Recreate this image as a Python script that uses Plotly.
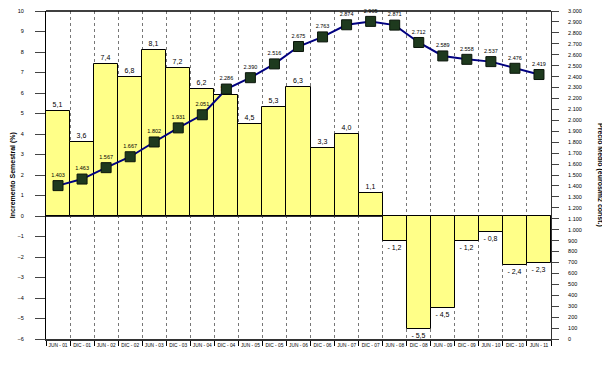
import plotly.graph_objects as go

categories = ["JUN - 01", "DIC - 01", "JUN - 02", "DIC - 02", "JUN - 03", "DIC - 03", "JUN - 04",
              "DIC - 04", "JUN - 05", "DIC - 05", "JUN - 06", "DIC - 06", "JUN - 07", "DIC - 07",
              "JUN - 08", "DIC - 08", "JUN - 09", "DIC - 09", "JUN - 10", "DIC - 10", "JUN - 11"]
incremento = [5.1, 3.6, 7.4, 6.8, 8.1, 7.2, 6.2, 5.9, 4.5, 5.3, 6.3, 3.3, 4.0, 1.1,
              -1.2, -5.5, -4.5, -1.2, -0.8, -2.4, -2.3]
precio = [1403, 1463, 1567, 1667, 1802, 1931, 2051, 2286, 2390, 2516, 2675, 2763, 2874, 2905,
          2871, 2712, 2589, 2558, 2537, 2476, 2419]

def fmt_pct(v):
    s = f"{abs(v):.1f}".replace(".", ",")
    return ("- " + s) if v < 0 else s

def fmt_thousands(v):
    return f"{v:,}".replace(",", ".")

FONT = "Liberation Sans, Arial, sans-serif"

fig = go.Figure()
fig.add_trace(go.Bar(
    x=categories, y=incremento,
    marker=dict(color="#FFFF88", line=dict(color="#000000", width=1)),
    text=[fmt_pct(v) for v in incremento], textposition="outside",
    textfont=dict(size=7, color="#000000", family=FONT),
    cliponaxis=False, showlegend=False,
))
fig.add_trace(go.Scatter(
    x=categories, y=precio, yaxis="y2", mode="lines+markers+text",
    line=dict(color="#000080", width=2),
    marker=dict(symbol="square", size=10, color="#1E3A1E", line=dict(color="#0A150A", width=1)),
    text=[fmt_thousands(v) for v in precio], textposition="top center",
    textfont=dict(size=5.5, color="#000000", family=FONT),
    cliponaxis=False, showlegend=False,
))

fig.update_layout(
    width=602, height=357,
    margin=dict(l=38, r=59, t=3, b=26, autoexpand=False),
    plot_bgcolor="#FFFFFF", paper_bgcolor="#FFFFFF",
    bargap=0, separators=",.",
    font=dict(family=FONT, size=6, color="#000000"),
    xaxis=dict(
        type="category", range=[-0.5, len(categories) - 0.5],
        tickson="boundaries", ticks="outside", ticklen=5,
        tickcolor="#000000", showgrid=True, gridcolor="#777777", griddash="dot", gridwidth=1,
        showline=True, linecolor="#333333", linewidth=2, automargin=False,
        tickfont=dict(size=4.8, family="Liberation Sans Narrow, Liberation Sans, Arial"), tickangle=0,
    ),
    yaxis=dict(
        range=[-6, 10], dtick=1, ticks="outside", ticklen=10, tickcolor="#444444",
        showgrid=False, zeroline=True, zerolinecolor="#333333", zerolinewidth=2,
        showline=True, linecolor="#000000", linewidth=1, automargin=False,
        tickfont=dict(size=5.5, family=FONT), ticklabelstandoff=10, ticklabeloverflow="allow",
    ),
    yaxis2=dict(
        range=[0, 3000], dtick=100, overlaying="y", side="right", ticks="outside", ticklen=7,
        tickcolor="#444444", showgrid=False, zeroline=False, tickformat=",d",
        showline=True, linecolor="#333333", linewidth=1, automargin=False,
        tickfont=dict(size=5.5, family=FONT), ticklabelstandoff=8, ticklabeloverflow="allow",
    ),
    shapes=[dict(type="line", xref="paper", yref="paper", x0=0, x1=1, y0=1, y1=1,
                 line=dict(color="#000000", width=1.5))],
    annotations=[
        dict(text="<b>Incremento Semestral (%)</b>", xref="paper", yref="paper",
             x=-0.065, y=0.5, xanchor="center", yanchor="middle", textangle=-90,
             showarrow=False, font=dict(size=7, family=FONT)),
        dict(text="<b>Precio Medio (euros/m2 const.)</b>", xref="paper", yref="paper",
             x=1.097, y=0.5, xanchor="center", yanchor="middle", textangle=90,
             showarrow=False, font=dict(size=7, family=FONT)),
    ],
)

fig.write_html("out.html")
